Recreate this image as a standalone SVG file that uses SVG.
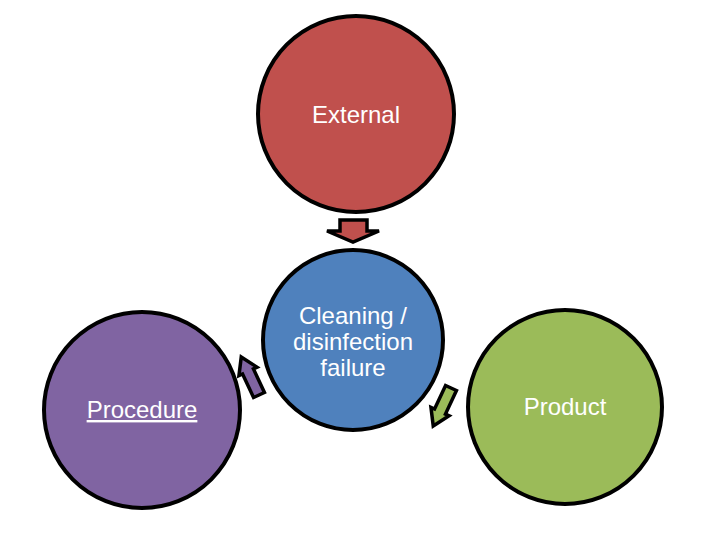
<svg xmlns="http://www.w3.org/2000/svg" width="720" height="540" viewBox="0 0 720 540">
<style>
.c{stroke:#000;stroke-width:4}
.a{stroke:#000;stroke-width:3.5;stroke-linejoin:miter}
text{font-family:"Liberation Sans",Arial,sans-serif;fill:#fff;text-anchor:middle;font-size:24px}
</style>
<rect width="720" height="540" fill="#fff"/>
<g id="connectors">
<polygon class="a" fill="#C0504D" points="340,220 367,220 367,231 379,231 353,242 327,231 340,231"/>
<polygon class="a" fill="#8064A2" transform="translate(259,395) rotate(-25)" points="-6,0 6,0 6,-26 10,-26 0,-42 -10,-26 -6,-26"/>
<polygon class="a" fill="#9BBB59" transform="translate(451,388) rotate(205)" points="-6,0 6,0 6,-26 10,-26 0,-42 -10,-26 -6,-26"/>
</g>
<g id="external"><circle class="c" cx="356" cy="114" r="98" fill="#C0504D"/><text x="356" y="123">External</text></g>
<g id="center"><circle class="c" cx="353" cy="340" r="90" fill="#4F81BD"/>
<text x="353" y="324" font-size="22">Cleaning /</text><text x="353" y="350" font-size="22">disinfection</text><text x="353" y="376" font-size="22">failure</text></g>
<g id="procedure"><circle class="c" cx="142" cy="410" r="98" fill="#8064A2"/><text x="142" y="418" text-decoration="underline">Procedure</text></g>
<g id="product"><circle class="c" cx="565" cy="407" r="97" fill="#9BBB59"/><text x="565" y="415">Product</text></g>
</svg>
